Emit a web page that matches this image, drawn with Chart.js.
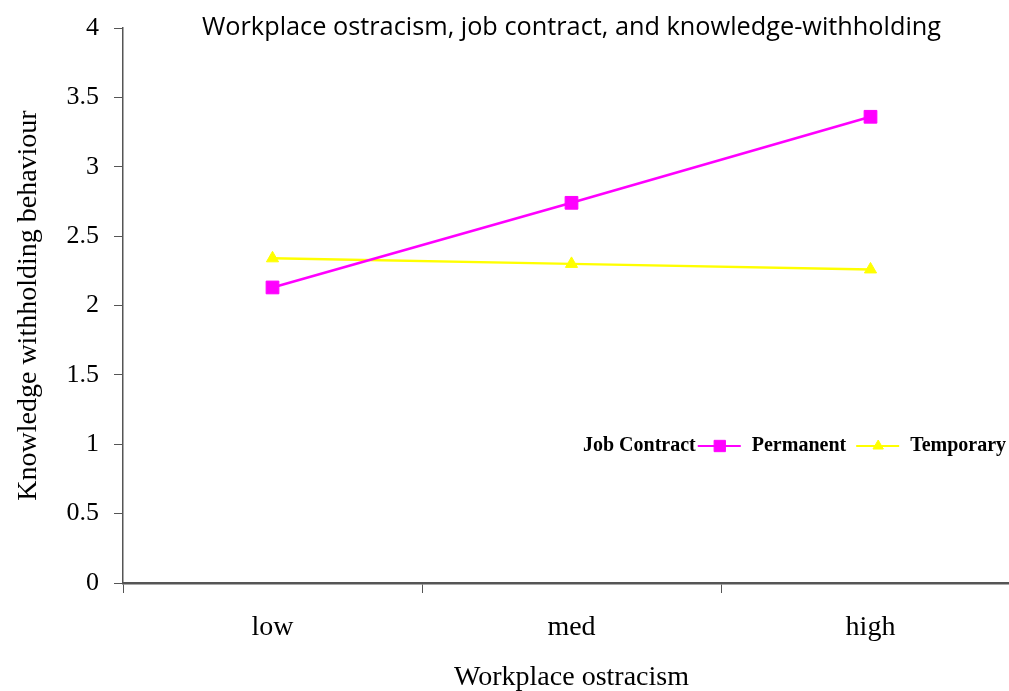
<!DOCTYPE html>
<html>
<head>
<meta charset="utf-8">
<script src="https://cdn.jsdelivr.net/npm/chart.js@4/dist/chart.umd.min.js"></script>
<style>
    html, body { margin: 0; padding: 0; background: #fff; overflow: hidden; }
    #wrap { width: 1030px; height: 691px; }
</style>
</head>
<body>
<div id="wrap"><canvas id="main-canvas"></canvas></div>
<script>
// Datas
var categories = ["low", "med", "high"];
var permanent = [2.13, 2.74, 3.36];
var temporary = [2.34, 2.30, 2.26];
var seriesNames = ["Permanent", "Temporary"];
var legendTitle = "Job Contract";
var chartTitle = "Workplace ostracism, job contract, and knowledge-withholding";

var serif = "'Liberation Serif', 'Times New Roman', serif";

// title drawn inside the plot, at the top
var titlePlugin = {
    id: "insideTitle",
    afterDraw: function(chart) {
        var ctx = chart.ctx;
        var area = chart.chartArea;
        ctx.save();
        ctx.font = "25.3px 'Open Sans', 'Noto Sans', sans-serif";
        ctx.fillStyle = "#000";
        ctx.textAlign = "center";
        ctx.textBaseline = "middle";
        ctx.fillText(chartTitle, (area.left + area.right) / 2, area.top);
        ctx.restore();
    }
};

// legend in one row: "Job Contract —■— Permanent —▲— Temporary"
var legendPlugin = {
    id: "rowLegend",
    afterDraw: function(chart) {
        var ctx = chart.ctx;
        var y = 446;
        var x = 583;
        var sizes = [8, 6];
        ctx.save();
        ctx.font = "bold 20px " + serif;
        ctx.textBaseline = "middle";
        ctx.textAlign = "left";
        ctx.fillStyle = "#000";
        ctx.fillText(legendTitle, x, y);
        x += ctx.measureText(legendTitle).width + 2;
        chart.data.datasets.forEach(function(ds, i) {
            ctx.strokeStyle = ds.borderColor;
            ctx.lineWidth = 2;
            ctx.beginPath();
            ctx.moveTo(x, y);
            ctx.lineTo(x + 43, y);
            ctx.stroke();
            ctx.fillStyle = ds.backgroundColor;
            ctx.lineWidth = 1;
            Chart.helpers.drawPoint(ctx, { pointStyle: ds.pointStyle, radius: sizes[i], borderWidth: 1 }, x + 22, y);
            ctx.fillStyle = "#000";
            x += 54;
            ctx.fillText(ds.label, x, y);
            x += ctx.measureText(ds.label).width + 10;
        });
        ctx.restore();
    }
};

const data = {
    labels: categories,
    datasets: [{
        label: seriesNames[0],
        data: permanent,
        borderColor: "#ff00ff",
        backgroundColor: "#ff00ff",
        borderWidth: 2.5,
        pointStyle: "rect",
        pointRadius: 9,
        pointHoverRadius: 9,
        pointBorderWidth: 1
    }, {
        label: seriesNames[1],
        data: temporary,
        borderColor: "#ffff00",
        backgroundColor: "#ffff00",
        borderWidth: 2.5,
        pointStyle: "triangle",
        pointRadius: 7,
        pointHoverRadius: 7,
        pointBorderWidth: 1
    }]
};

const config = {
    type: "line",
    data: data,
    options: {
        responsive: true,
        maintainAspectRatio: false,
        animation: false,
        events: [],
        layout: { padding: { top: 28, right: 6, left: 0, bottom: 0 } },
        plugins: {
            legend: { display: false },
            title: { display: false },
            tooltip: { enabled: false }
        },
        scales: {
            x: {
                offset: true,
                afterFit: function(scale) {
                    scale.height = 108;
                    scale.paddingLeft = 0;
                    scale.paddingRight = 0;
                },
                grid: {
                    offset: true,
                    drawOnChartArea: false,
                    drawTicks: true,
                    tickLength: 10,
                    color: "#555"
                },
                border: { color: "#555", width: 2.5 },
                ticks: {
                    color: "#000",
                    padding: 18,
                    font: { family: serif, size: 28 }
                },
                title: {
                    display: true,
                    text: "Workplace ostracism",
                    color: "#000",
                    padding: { top: 0, bottom: -3 },
                    font: { family: serif, size: 28 }
                }
            },
            y: {
                min: 0,
                max: 4,
                afterFit: function(scale) {
                    scale.width = 123;
                    scale.paddingTop = 0;
                    scale.paddingBottom = 0;
                },
                grid: {
                    drawOnChartArea: false,
                    drawTicks: true,
                    tickLength: 9,
                    color: "#555"
                },
                border: { color: "#555", width: 1.5 },
                ticks: {
                    stepSize: 0.5,
                    color: "#000",
                    padding: 15,
                    font: { family: serif, size: 26 },
                    callback: function(value) { return String(value); }
                },
                title: {
                    display: true,
                    text: "Knowledge withholding behaviour",
                    color: "#000",
                    padding: { top: 12, bottom: 0 },
                    font: { family: serif, size: 28 }
                }
            }
        }
    },
    plugins: [titlePlugin, legendPlugin]
};

const vc = new Chart(document.getElementById("main-canvas").getContext("2d"), config);
</script>
</body>
</html>
